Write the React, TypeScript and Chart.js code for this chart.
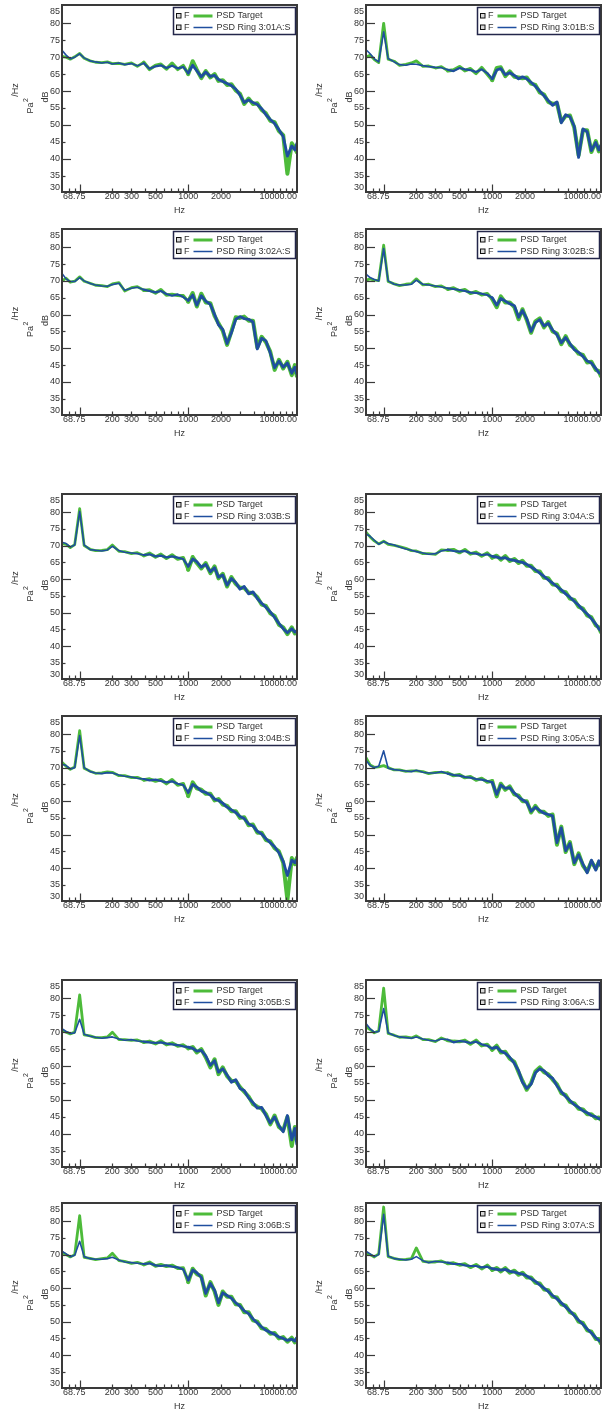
import React, { useEffect, useRef } from "react";
import { Chart, registerables } from "chart.js";

Chart.register(...registerables);

// ---------------- DATA ----------------
const FREQ_HZ = [
  68.75, 75, 82, 90, 100, 110, 125, 140, 160, 180, 200, 230, 260, 300, 340, 390, 440, 500, 560, 630,
  710, 800, 900, 1000, 1100, 1200, 1320, 1450, 1600, 1750, 1900, 2080, 2280, 2500, 2740, 3000, 3280,
  3600, 3950, 4330, 4750, 5200, 5700, 6250, 6850, 7500, 8200, 9000, 9600, 10000,
];

const Y_TICK_VALUES = [85, 80, 75, 70, 65, 60, 55, 50, 45, 40, 35, 30];
const Y_MAJOR_TICKS = [80, 70, 60, 50, 40];
const X_TICK_LABEL_VALUES = [68.75, 200, 300, 500, 1000, 2000, 10000];
const X_TICK_LABELS = ["68.75", "200", "300", "500", "1000", "2000", "10000.00"];
const X_MAJOR_TICKS = [100, 1000];
const X_MINOR_TICKS = [80, 90, 200, 300, 400, 500, 600, 700, 800, 900, 2000, 3000, 4000, 5000, 6000, 7000, 8000, 9000];

const TARGET_NAME = "PSD Target";
const MARKER_TEXT = "F";
const X_TITLE = "Hz";

const RING_301A = [72.0,70.6,69.5,70.0,71.0,69.8,68.9,68.6,68.3,68.5,68.0,68.3,67.8,68.1,67.5,68.2,66.6,67.3,67.6,66.8,67.5,66.7,67.1,65.3,67.6,66.0,64.2,65.6,64.3,64.6,63.4,62.8,62.2,61.6,60.6,58.8,56.6,57.4,56.6,56.0,54.8,53.0,51.6,50.4,48.6,46.6,40.8,43.8,42.6,44.5];
const TARGET_301A = [70.2,70.0,69.4,70.1,71.1,69.7,68.9,68.5,68.4,68.6,68.1,68.2,67.9,68.3,67.3,68.5,66.4,67.6,67.9,66.5,68.2,66.4,67.5,65.0,68.8,66.3,63.8,65.9,64.0,65.0,63.0,63.2,61.8,62.0,60.2,59.2,56.2,57.8,56.2,56.4,54.4,53.4,51.2,50.8,48.2,47.0,35.6,44.6,43.2,42.0];

const RING_301B = [72.2,71.0,69.5,68.6,77.5,69.6,68.6,67.8,67.6,68.0,67.9,67.5,67.2,67.0,66.9,66.3,65.9,66.8,66.4,66.2,65.6,66.4,65.3,63.6,66.2,66.6,64.8,65.4,64.6,63.6,64.2,63.6,62.6,61.4,60.0,58.6,57.2,55.8,56.8,50.6,53.0,52.4,49.6,40.4,48.8,48.0,42.4,44.8,42.6,44.0];
const TARGET_301B = [70.0,70.6,69.3,68.4,80.0,69.4,68.8,67.6,67.9,68.3,68.9,67.3,67.4,66.8,67.2,66.0,66.2,67.2,66.0,66.6,65.2,66.9,65.0,63.2,66.8,67.0,64.4,65.8,64.2,64.0,63.8,64.0,62.2,61.8,59.6,59.0,56.8,56.2,56.4,51.0,52.6,52.8,49.2,41.0,48.4,48.4,42.0,45.2,42.2,43.4];

const RING_302A = [72.2,70.6,69.8,69.8,71.0,70.0,69.2,68.8,68.5,68.4,68.9,69.3,67.2,67.8,68.1,67.4,67.0,66.6,67.0,66.1,65.6,66.0,65.2,64.2,65.8,62.8,65.6,64.0,63.0,60.0,57.0,55.6,51.4,54.6,58.6,59.4,58.8,58.6,57.8,49.8,53.0,52.2,48.6,44.2,46.2,44.4,45.6,42.6,44.4,42.4];
const TARGET_302A = [70.0,70.8,69.6,69.9,71.2,69.9,69.3,68.7,68.6,68.3,69.1,69.5,67.0,68.0,68.3,67.2,67.3,66.4,67.4,65.8,66.0,65.7,65.6,63.8,66.4,62.4,66.2,63.6,63.4,59.6,57.4,55.2,51.0,55.0,59.2,59.0,59.4,58.2,58.2,50.2,53.4,51.8,49.0,43.6,46.6,44.0,46.0,42.0,45.0,41.8];

const RING_302B = [72.0,71.0,70.4,70.0,79.6,70.0,69.0,68.8,68.8,69.0,70.2,69.0,68.8,68.5,68.2,67.8,67.6,67.3,67.0,66.6,66.4,66.2,65.8,65.0,62.8,64.8,64.0,63.2,62.6,59.2,61.2,58.8,55.0,57.6,58.5,56.6,57.4,55.4,54.0,51.6,53.2,51.4,49.6,48.8,47.6,46.2,45.6,44.0,42.8,42.4];
const TARGET_302B = [70.2,70.6,70.2,70.1,80.6,69.8,69.1,68.6,69.0,69.2,70.6,68.8,69.0,68.3,68.5,67.5,67.9,67.0,67.4,66.3,66.8,65.9,66.2,64.6,62.2,65.4,63.6,63.6,62.2,58.6,61.6,58.4,54.6,58.0,58.9,56.2,57.8,55.0,54.4,51.2,53.6,51.0,50.0,48.4,48.0,45.8,46.0,43.6,43.2,41.8];

const RING_303B = [71.0,70.6,69.6,70.2,80.2,70.2,68.8,68.6,68.4,68.7,69.8,68.5,68.0,67.8,67.6,67.2,67.4,66.8,67.0,66.5,66.8,66.4,66.0,63.8,66.0,65.2,63.6,64.4,62.2,63.4,60.6,61.2,58.2,60.2,59.0,57.0,57.8,55.6,56.2,54.2,52.8,51.6,50.2,48.6,46.8,45.2,44.0,45.2,44.2,44.6];
const TARGET_303B = [70.6,70.4,69.4,70.3,81.0,70.0,68.9,68.5,68.6,68.8,70.2,68.3,68.2,67.6,67.9,67.0,67.7,66.6,67.4,66.2,67.2,66.0,66.4,62.8,66.6,64.8,63.2,64.8,61.8,63.8,60.2,61.6,57.8,60.6,58.6,57.4,57.4,56.0,55.8,54.6,52.4,52.0,49.8,49.0,46.4,45.6,43.6,45.6,43.8,44.2];

const RING_304A = [73.5,72.8,71.6,70.4,71.2,70.6,70.2,69.6,69.0,68.6,68.2,67.8,67.4,67.6,68.4,68.8,68.4,68.2,68.4,67.8,67.6,67.2,67.4,66.8,66.6,66.2,66.4,65.8,65.6,65.2,65.0,64.4,63.6,62.8,61.8,60.8,59.8,58.8,57.8,56.8,55.6,54.6,53.4,52.2,50.8,49.6,48.2,46.6,45.2,44.6];
const TARGET_304A = [74.0,72.6,71.4,70.5,71.3,70.4,70.1,69.7,69.2,68.5,68.4,67.6,67.6,67.4,68.7,68.6,68.8,67.9,68.8,67.5,68.0,66.9,67.8,66.4,67.0,65.8,66.9,65.4,66.0,64.8,65.5,64.0,64.0,62.4,62.3,60.4,60.3,58.4,58.3,56.4,56.1,54.2,53.8,51.8,51.2,49.2,48.6,46.2,45.6,44.2];

const RING_304B = [71.0,70.6,69.6,70.0,79.6,70.0,68.8,68.4,68.2,68.5,68.4,67.8,67.4,67.2,66.8,66.6,66.2,66.4,66.0,65.6,65.9,65.2,64.8,62.6,65.0,64.2,63.0,62.6,61.8,60.6,60.2,59.4,58.2,57.4,56.6,55.4,54.8,53.2,52.6,51.0,50.2,48.8,47.6,46.4,44.6,42.0,37.8,42.4,41.6,42.6];
const TARGET_304B = [71.6,70.4,69.5,70.2,81.0,69.8,68.9,68.3,68.4,68.7,68.6,67.6,67.6,67.0,67.1,66.3,66.6,66.0,66.4,65.2,66.4,64.8,65.2,61.5,65.6,63.8,63.4,62.2,62.2,60.2,60.6,59.0,58.6,57.0,57.0,55.0,55.2,52.8,53.0,50.6,50.6,48.4,48.0,46.0,45.0,41.6,30.5,43.0,41.2,43.0];

const RING_305A = [72.2,70.6,70.0,70.4,75.0,69.8,69.4,69.2,69.0,68.8,69.2,68.6,68.4,68.4,68.8,68.2,67.8,67.6,67.2,67.0,66.6,66.4,66.0,65.6,62.0,64.8,63.8,64.0,62.4,61.2,60.4,59.6,57.0,58.2,57.2,56.4,56.0,55.6,47.6,52.0,45.2,47.4,41.6,44.0,41.2,38.6,42.4,39.4,42.2,40.6];
const TARGET_305A = [73.0,70.8,70.1,70.2,70.6,70.0,69.3,69.3,68.9,69.0,69.0,68.8,68.2,68.6,68.6,68.4,67.6,67.9,67.0,67.3,66.3,66.8,65.7,66.0,61.4,65.2,63.4,64.4,62.0,61.6,60.0,60.0,56.6,58.6,56.8,56.8,55.6,56.0,47.0,52.4,44.8,47.8,41.2,44.4,40.8,39.0,42.0,39.8,41.8,41.0];

const RING_305B = [71.0,70.2,69.6,69.8,73.8,69.4,68.8,68.5,68.2,68.4,68.6,68.0,67.6,67.8,67.4,67.2,67.0,66.8,67.0,66.6,66.4,66.2,65.8,65.6,65.2,64.4,64.6,63.0,60.2,61.6,58.2,59.2,57.4,55.2,56.0,53.4,52.8,50.6,49.2,47.6,47.8,45.4,43.2,45.0,42.4,40.6,45.4,38.2,41.6,37.0];
const TARGET_305B = [70.6,70.0,69.5,70.0,81.0,69.2,68.9,68.4,68.4,68.6,70.0,67.8,67.8,67.6,67.7,67.0,67.3,66.6,67.4,66.3,66.8,65.9,66.2,65.2,65.6,64.0,65.0,62.6,59.6,62.0,57.6,59.6,57.0,55.6,55.6,53.8,52.4,51.0,48.8,48.0,47.4,45.8,42.8,45.4,42.0,41.0,45.0,36.4,42.0,38.2];

const RING_306A = [72.6,71.0,70.0,70.2,77.0,69.8,69.0,68.6,68.4,68.2,68.6,68.0,67.6,67.4,68.0,67.8,67.0,67.4,67.2,66.8,67.2,66.4,66.0,65.2,65.6,64.4,63.8,62.6,60.8,58.6,55.2,53.4,54.6,58.0,59.2,58.6,57.2,56.4,54.2,52.4,51.0,49.8,48.6,47.8,46.8,46.2,45.4,45.0,44.4,44.6];
const TARGET_306A = [71.6,70.8,69.8,70.4,83.0,69.6,69.1,68.5,68.6,68.3,68.9,67.8,67.8,67.2,68.3,67.5,67.3,67.2,67.6,66.5,67.6,66.0,66.4,64.8,66.0,64.0,64.2,62.2,61.2,58.2,55.6,53.0,55.0,58.4,59.6,58.2,57.6,56.0,54.6,52.0,51.4,49.4,49.0,47.4,47.2,45.8,45.8,44.6,44.8,44.2];

const RING_306B = [71.0,70.2,69.4,69.8,74.0,69.4,68.8,68.6,68.6,68.8,69.2,68.4,67.8,67.6,67.4,67.2,67.4,66.8,66.6,66.8,66.4,66.2,65.6,62.4,65.4,64.6,63.2,58.4,61.4,59.4,55.6,58.6,57.8,57.0,55.6,54.6,53.2,52.4,50.8,49.6,48.4,47.4,46.8,46.2,45.4,45.0,44.4,44.8,44.2,45.2];
const TARGET_306B = [70.6,70.0,69.3,70.0,81.6,69.2,68.9,68.5,68.8,69.0,70.4,68.2,68.0,67.4,67.7,67.0,67.7,66.6,67.0,66.5,66.8,65.9,66.0,61.8,65.8,64.2,63.6,57.8,61.8,59.0,55.0,59.0,57.4,57.4,55.2,55.0,52.8,52.8,50.4,50.0,48.0,47.8,46.4,46.6,45.0,45.4,44.0,45.2,43.8,44.8];

const RING_307A = [71.0,70.2,69.4,70.0,82.0,69.6,68.8,68.6,68.4,68.6,69.4,68.2,67.6,68.0,67.8,67.6,67.2,67.2,66.8,66.6,66.6,66.2,66.4,65.8,65.6,65.4,65.6,65.0,64.8,64.4,64.2,63.6,62.8,62.0,61.0,60.0,59.0,57.8,56.8,55.6,54.4,53.2,51.8,50.4,49.2,47.8,46.6,45.2,44.4,44.0];
const TARGET_307A = [70.4,70.0,69.3,70.2,84.2,69.4,68.9,68.5,68.6,68.8,72.0,68.0,67.8,67.8,68.1,67.3,67.5,66.9,67.2,66.2,67.0,65.8,66.8,65.4,66.0,65.0,66.0,64.6,65.2,64.0,64.6,63.2,63.2,61.6,61.4,59.6,59.4,57.4,57.2,55.2,54.8,52.8,52.2,50.0,49.6,47.4,47.0,44.8,44.8,43.6];

type PanelDef = { name: string; ring: number[]; target: number[] };

const PANELS: PanelDef[] = [
  { name: "PSD Ring 3:01A:S", ring: RING_301A, target: TARGET_301A },
  { name: "PSD Ring 3:01B:S", ring: RING_301B, target: TARGET_301B },
  { name: "PSD Ring 3:02A:S", ring: RING_302A, target: TARGET_302A },
  { name: "PSD Ring 3:02B:S", ring: RING_302B, target: TARGET_302B },
  { name: "PSD Ring 3:03B:S", ring: RING_303B, target: TARGET_303B },
  { name: "PSD Ring 3:04A:S", ring: RING_304A, target: TARGET_304A },
  { name: "PSD Ring 3:04B:S", ring: RING_304B, target: TARGET_304B },
  { name: "PSD Ring 3:05A:S", ring: RING_305A, target: TARGET_305A },
  { name: "PSD Ring 3:05B:S", ring: RING_305B, target: TARGET_305B },
  { name: "PSD Ring 3:06A:S", ring: RING_306A, target: TARGET_306A },
  { name: "PSD Ring 3:06B:S", ring: RING_306B, target: TARGET_306B },
  { name: "PSD Ring 3:07A:S", ring: RING_307A, target: TARGET_307A },
];

// ---------------- LAYOUT / STYLE ----------------
const COL_PLOT_LEFT = [62, 366];
const COL_CANVAS_LEFT = [0, 304];
const CANVAS_W = 305;
const PLOT_W = 235;
const ROW_PLOT_TOP = [5, 229, 494, 716, 980, 1203];
const ROW_PLOT_BOTTOM = [192, 415, 679, 901, 1167, 1388];
const GREEN = "#4dbb3a";
const BLUE = "#1f4e9f";
const AXIS_COLOR = "#3a3a3a";
const TEXT_COLOR = "#333333";
const FONT = '9px "Liberation Sans", Arial, Helvetica, sans-serif';
const SMALL_FONT = '7px "Liberation Sans", Arial, Helvetica, sans-serif';

// line thickness grows where the measured spectrum is a dense noisy band
function bandWidth(f: number, base: number) {
  if (f < 380) return base;
  if (f < 1000) return base + 0.6;
  return base + 1.2;
}

function makeDecorPlugin(name: string) {
  return {
    id: "psdDecor",
    afterDatasetsDraw(chart: any) {
      const { ctx, chartArea: a, scales } = chart;
      const xs = scales.x;
      const ys = scales.y;
      ctx.save();

      ctx.strokeStyle = AXIS_COLOR;
      ctx.lineWidth = 2;
      ctx.strokeRect(a.left, a.top, a.right - a.left, a.bottom - a.top);

      ctx.lineWidth = 1.2;
      ctx.strokeStyle = AXIS_COLOR;
      for (const v of Y_TICK_VALUES) {
        const y = Math.round(ys.getPixelForValue(v)) + 0.5;
        if (y > a.top + 3 && y < a.bottom - 3) {
          const len = Y_MAJOR_TICKS.includes(v) ? 9 : 3.5;
          ctx.beginPath();
          ctx.moveTo(a.left, y);
          ctx.lineTo(a.left + len, y);
          ctx.stroke();
        }
      }
      const drawX = (v: number, len: number) => {
        const x = Math.round(xs.getPixelForValue(v)) + 0.5;
        if (x > a.left + 2 && x < a.right - 2) {
          ctx.beginPath();
          ctx.moveTo(x, a.bottom);
          ctx.lineTo(x, a.bottom - len);
          ctx.stroke();
        }
      };
      for (const v of X_MINOR_TICKS) drawX(v, 3.5);
      for (const v of X_MAJOR_TICKS) drawX(v, 7.5);

      ctx.font = FONT;
      ctx.fillStyle = TEXT_COLOR;
      ctx.textAlign = "right";
      ctx.textBaseline = "middle";
      for (const v of Y_TICK_VALUES) {
        let y = ys.getPixelForValue(v);
        y = Math.max(a.top + 7, Math.min(a.bottom - 4.5, y));
        ctx.fillText(String(v), a.left - 2, y);
      }
      ctx.textAlign = "center";
      X_TICK_LABEL_VALUES.forEach((v, i) => {
        const t = X_TICK_LABELS[i];
        const w = ctx.measureText(t).width;
        let x = xs.getPixelForValue(v);
        if (x - w / 2 < a.left + 1) x = a.left + 1 + w / 2;
        if (x + w / 2 > a.right) x = a.right - w / 2;
        ctx.fillText(t, x, a.bottom + 5);
      });

      ctx.fillText(X_TITLE, (a.left + a.right) / 2, a.bottom + 18.5);
      const midY = (a.top + a.bottom) / 2;
      const rotText = (x: number, y: number, draw: () => void) => {
        ctx.save();
        ctx.translate(x, y);
        ctx.rotate(-Math.PI / 2);
        draw();
        ctx.restore();
      };
      rotText(a.left - 46.5, midY - 8.5, () => {
        ctx.textAlign = "center";
        ctx.fillText("/Hz", 0, 0);
      });
      rotText(a.left - 31.5, midY + 7.5, () => {
        ctx.font = FONT;
        const w1 = ctx.measureText("Pa").width;
        ctx.font = SMALL_FONT;
        const w2 = ctx.measureText("2").width;
        const start = -(w1 + w2) / 2;
        ctx.textAlign = "left";
        ctx.font = FONT;
        ctx.fillText("Pa", start, 0);
        ctx.font = SMALL_FONT;
        ctx.fillText("2", start + w1 + 0.5, -4);
      });
      rotText(a.left - 16.5, midY - 1.5, () => {
        ctx.textAlign = "center";
        ctx.font = FONT;
        ctx.fillText("dB", 0, 0);
      });

      const lw = 122;
      const lh = 27;
      const lx = a.right - 123.5;
      const ly = a.top + 2.5;
      ctx.fillStyle = "#ffffff";
      ctx.fillRect(lx, ly, lw, lh);
      ctx.strokeStyle = "#23264a";
      ctx.lineWidth = 1.5;
      ctx.strokeRect(lx, ly, lw, lh);
      const rows = [
        { text: TARGET_NAME, color: GREEN, width: 3 },
        { text: name, color: BLUE, width: 1.5 },
      ];
      rows.forEach((r, i) => {
        const cy = ly + 8.5 + i * 11.5;
        ctx.fillStyle = "#d8d8d8";
        ctx.fillRect(lx + 3, cy - 2.5, 4.5, 4.5);
        ctx.strokeStyle = "#111111";
        ctx.lineWidth = 1;
        ctx.strokeRect(lx + 3, cy - 2.5, 4.5, 4.5);
        ctx.fillStyle = TEXT_COLOR;
        ctx.font = FONT;
        ctx.textAlign = "left";
        ctx.textBaseline = "middle";
        ctx.fillText(MARKER_TEXT, lx + 10.5, cy);
        ctx.strokeStyle = r.color;
        ctx.lineWidth = r.width;
        ctx.beginPath();
        ctx.moveTo(lx + 20, cy);
        ctx.lineTo(lx + 39, cy);
        ctx.stroke();
        ctx.fillStyle = TEXT_COLOR;
        ctx.fillText(r.text, lx + 43, cy);
      });

      ctx.restore();
    },
  };
}

function PsdPanel({ panel, index }: { panel: PanelDef; index: number }) {
  const ref = useRef<HTMLCanvasElement | null>(null);
  const col = index % 2;
  const row = Math.floor(index / 2);
  const canvasLeft = COL_CANVAS_LEFT[col];
  const plotLeft = COL_PLOT_LEFT[col];
  const plotTop = ROW_PLOT_TOP[row];
  const plotBottom = ROW_PLOT_BOTTOM[row];
  const canvasTop = plotTop - 5;
  const canvasH = plotBottom - canvasTop + 26;

  useEffect(() => {
    if (!ref.current) return;
    const chart = new Chart(ref.current, {
      type: "line",
      data: {
        datasets: [
          {
            label: panel.name,
            data: FREQ_HZ.map((f, i) => ({ x: f, y: panel.ring[i] })),
            borderColor: BLUE,
            borderWidth: 1.6,
            borderCapStyle: "round",
            borderJoinStyle: "round",
            segment: { borderWidth: (c: any) => bandWidth(c.p0.parsed.x, 1.6) },
            pointRadius: 0,
            tension: 0,
            fill: false,
            order: 1,
            clip: 0,
          },
          {
            label: TARGET_NAME,
            data: FREQ_HZ.map((f, i) => ({ x: f, y: panel.target[i] })),
            borderColor: GREEN,
            borderWidth: 2.8,
            borderCapStyle: "round",
            borderJoinStyle: "round",
            segment: { borderWidth: (c: any) => bandWidth(c.p0.parsed.x, 2.8) },
            pointRadius: 0,
            tension: 0,
            fill: false,
            order: 2,
            clip: 0,
          },
        ],
      },
      options: {
        responsive: false,
        animation: false,
        devicePixelRatio: 1,
        events: [],
        layout: {
          padding: {
            left: plotLeft - canvasLeft,
            top: plotTop - canvasTop,
            right: canvasLeft + CANVAS_W - (plotLeft + PLOT_W),
            bottom: canvasTop + canvasH - plotBottom,
          },
        },
        scales: {
          x: { type: "logarithmic", min: 68.75, max: 10050, display: false },
          y: { type: "linear", min: 30.2, max: 85.4, display: false },
        },
        plugins: { legend: { display: false }, tooltip: { enabled: false } },
      },
      plugins: [makeDecorPlugin(panel.name)],
    } as any);
    return () => chart.destroy();
  }, []);

  return (
    <canvas
      ref={ref}
      width={CANVAS_W}
      height={canvasH}
      style={{ position: "absolute", left: canvasLeft, top: canvasTop, width: CANVAS_W, height: canvasH, display: "block" }}
    />
  );
}

export default function App() {
  return (
    <div style={{ position: "absolute", left: 0, top: 0, width: 609, height: 1411, background: "#ffffff" }}>
      {PANELS.map((p, i) => (
        <PsdPanel key={p.name} panel={p} index={i} />
      ))}
    </div>
  );
}
